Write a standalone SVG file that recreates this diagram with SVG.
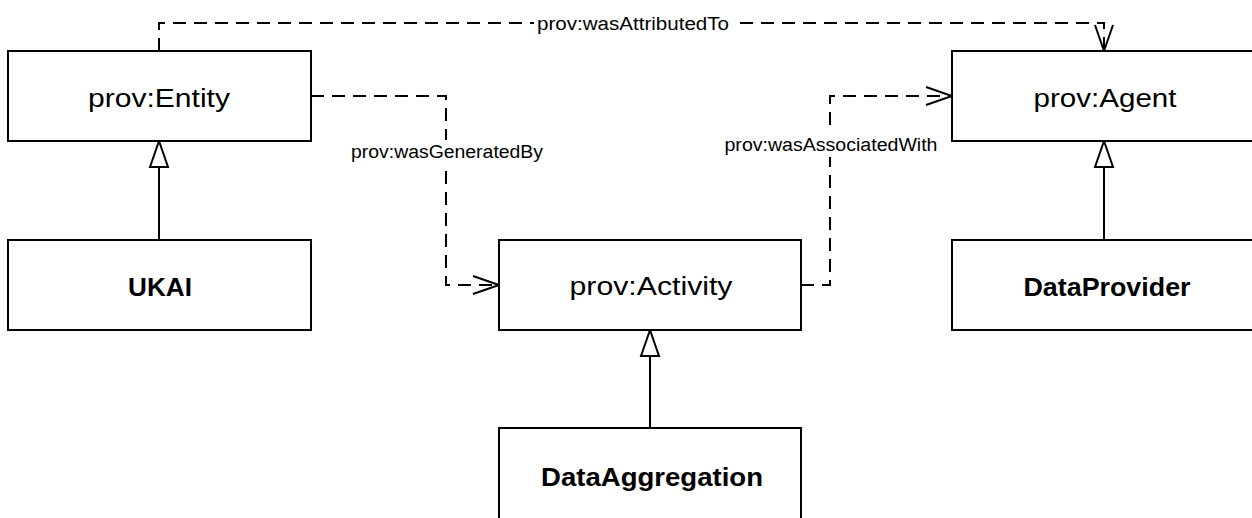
<svg xmlns="http://www.w3.org/2000/svg" width="1252" height="518" viewBox="0 0 1252 518">
<style>
.box{fill:#fff;stroke:#000;stroke-width:2}
.t{font-family:"Liberation Sans",Arial,sans-serif;font-size:25px;fill:#000;text-anchor:middle}
.b{font-weight:bold;font-size:26px}
.lbl{font-family:"Liberation Sans",Arial,sans-serif;font-size:18px;fill:#000;text-anchor:middle}
.dep{fill:none;stroke:#000;stroke-width:2;stroke-dasharray:13 8}
.gen{fill:none;stroke:#000;stroke-width:2}
.bg{fill:#fff}
</style>
<defs>
<marker id="open" markerUnits="userSpaceOnUse" markerWidth="30" markerHeight="22" refX="27" refY="10" orient="auto" overflow="visible">
<path d="M1,1 L27,10 L1,19" fill="none" stroke="#000" stroke-width="2" stroke-dasharray="none"/>
</marker>
<marker id="tri" markerUnits="userSpaceOnUse" markerWidth="30" markerHeight="22" refX="27" refY="10" orient="auto" overflow="visible">
<path d="M1,1 L27,10 L1,19 Z" fill="#fff" stroke="#000" stroke-width="2"/>
</marker>
</defs>
<rect width="1252" height="518" fill="#fff"/>
<g id="connectors">
<path class="dep" d="M159,51 V23 H1104 V51" marker-end="url(#open)"/>
<path class="dep" d="M311,96 H446 V285 H499" marker-end="url(#open)"/>
<path class="dep" d="M801,285 H830 V96 H952" marker-end="url(#open)"/>
<path class="gen" d="M159,240 V141" marker-end="url(#tri)"/>
<path class="gen" d="M650,428 V330" marker-end="url(#tri)"/>
<path class="gen" d="M1104,240 V141" marker-end="url(#tri)"/>
<rect class="bg" x="534" y="14" width="198" height="20"/>
<text class="lbl" x="633" y="30" textLength="192" lengthAdjust="spacingAndGlyphs">prov:wasAttributedTo</text>
<rect class="bg" x="349" y="140" width="196" height="24"/>
<text class="lbl" x="447" y="158" textLength="192" lengthAdjust="spacingAndGlyphs">prov:wasGeneratedBy</text>
<rect class="bg" x="723" y="133" width="217" height="24"/>
<text class="lbl" x="831" y="151" textLength="213" lengthAdjust="spacingAndGlyphs">prov:wasAssociatedWith</text>
</g>
<g id="entity">
<rect class="box" x="8" y="51" width="303" height="90"/>
<text class="t" x="159" y="107" textLength="142" lengthAdjust="spacingAndGlyphs">prov:Entity</text>
</g>
<g id="ukai">
<rect class="box" x="8" y="240" width="303" height="90"/>
<text class="t b" x="160" y="296" textLength="64" lengthAdjust="spacingAndGlyphs">UKAI</text>
</g>
<g id="activity">
<rect class="box" x="499" y="240" width="302" height="90"/>
<text class="t" x="651" y="295" textLength="163" lengthAdjust="spacingAndGlyphs">prov:Activity</text>
</g>
<g id="dataaggregation">
<rect class="box" x="499" y="428" width="302" height="100"/>
<text class="t b" x="652" y="486" textLength="222" lengthAdjust="spacingAndGlyphs">DataAggregation</text>
</g>
<g id="agent">
<rect class="box" x="952" y="51" width="303" height="90"/>
<text class="t" x="1105" y="107" textLength="143" lengthAdjust="spacingAndGlyphs">prov:Agent</text>
</g>
<g id="dataprovider">
<rect class="box" x="952" y="240" width="303" height="90"/>
<text class="t b" x="1107" y="296" textLength="167" lengthAdjust="spacingAndGlyphs">DataProvider</text>
</g>
</svg>
